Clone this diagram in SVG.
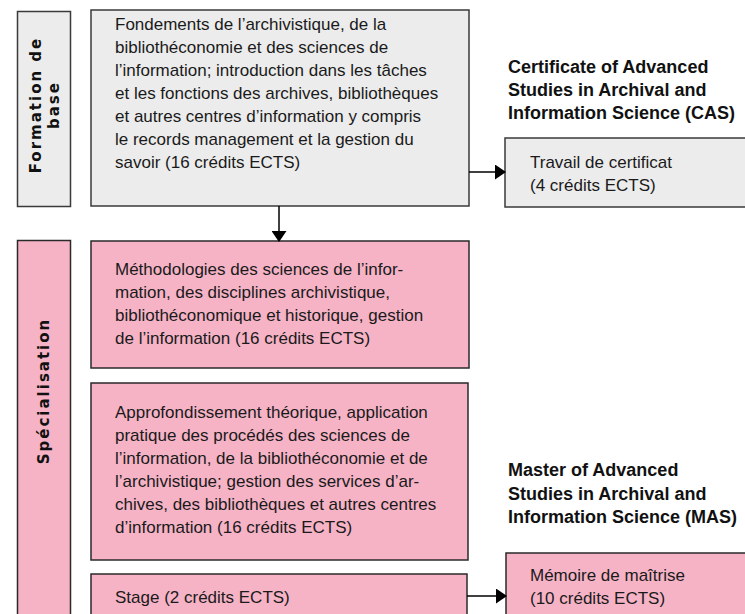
<svg xmlns="http://www.w3.org/2000/svg" width="745" height="614" viewBox="0 0 745 614">
<defs>
<marker id="ah" markerWidth="11" markerHeight="15" refX="10" refY="7.5" orient="auto" markerUnits="userSpaceOnUse">
<path d="M0,0 L11,7.5 L0,15 Z" fill="#000"/>
</marker>
<style>
.gray{fill:#ececec;stroke:#3a3a3a;stroke-width:1.5}
.pink{fill:#f6b3c6;stroke:#2a2a2a;stroke-width:1.5}
.t{font-family:"Liberation Sans",Arial,sans-serif;font-size:17px;fill:#1a1a1a}
.b{font-family:"Liberation Sans",Arial,sans-serif;font-size:18px;font-weight:bold;fill:#111}
.side{font-family:"DejaVu Sans","Liberation Sans",sans-serif;font-size:15px;font-weight:bold;letter-spacing:2px;fill:#111;text-anchor:middle}
.con{stroke:#000;stroke-width:1.5;fill:none}
</style>
</defs>
<rect width="745" height="614" fill="#fff"/>
<g id="side-formation">
<rect class="gray" x="17.5" y="11.5" width="53" height="195"/>
<text class="side" transform="translate(44,105) rotate(-90)"><tspan x="0" y="-3">Formation de</tspan><tspan x="0" y="15">base</tspan></text>
</g>
<g id="node-fondements">
<rect class="gray" x="91" y="10" width="378" height="196"/>
<text class="t"><tspan x="115" y="30">Fondements de l’archivistique, de la</tspan><tspan x="115" y="53">bibliothéconomie et des sciences de</tspan><tspan x="115" y="76">l’information; introduction dans les tâches</tspan><tspan x="115" y="99">et les fonctions des archives, bibliothèques</tspan><tspan x="115" y="122">et autres centres d’information y compris</tspan><tspan x="115" y="145">le records management et la gestion du</tspan><tspan x="115" y="168">savoir (16 crédits ECTS)</tspan></text>
</g>
<g id="title-cas">
<text class="b"><tspan x="508" y="73">Certificate of Advanced</tspan><tspan x="508" y="96">Studies in Archival and</tspan><tspan x="508" y="119">Information Science (CAS)</tspan></text>
</g>
<g id="node-travail">
<rect class="gray" x="505" y="138" width="245" height="69"/>
<text class="t"><tspan x="530" y="168">Travail de certificat</tspan><tspan x="530" y="191">(4 crédits ECTS)</tspan></text>
</g>
<g id="side-specialisation">
<rect class="pink" x="17.5" y="240.5" width="53" height="380"/>
<text class="side" transform="translate(49,391) rotate(-90)"><tspan x="0" y="0">Spécialisation</tspan></text>
</g>
<g id="node-methodologies">
<rect class="pink" x="91" y="241" width="378" height="127"/>
<text class="t"><tspan x="115" y="275">Méthodologies des sciences de l’infor-</tspan><tspan x="115" y="298">mation, des disciplines archivistique,</tspan><tspan x="115" y="321">bibliothéconomique et historique, gestion</tspan><tspan x="115" y="344">de l’information (16 crédits ECTS)</tspan></text>
</g>
<g id="node-approfondissement">
<rect class="pink" x="91" y="383" width="377" height="177"/>
<text class="t"><tspan x="115" y="418">Approfondissement théorique, application</tspan><tspan x="115" y="441">pratique des procédés des sciences de</tspan><tspan x="115" y="464">l’information, de la bibliothéconomie et de</tspan><tspan x="115" y="487">l’archivistique; gestion des services d’ar-</tspan><tspan x="115" y="510">chives, des bibliothèques et autres centres</tspan><tspan x="115" y="533">d’information (16 crédits ECTS)</tspan></text>
</g>
<g id="node-stage">
<rect class="pink" x="91" y="574" width="376" height="50"/>
<text class="t"><tspan x="115" y="603">Stage (2 crédits ECTS)</tspan></text>
</g>
<g id="title-mas">
<text class="b"><tspan x="508" y="476">Master of Advanced</tspan><tspan x="508" y="500">Studies in Archival and</tspan><tspan x="508" y="523">Information Science (MAS)</tspan></text>
</g>
<g id="node-memoire">
<rect class="pink" x="506" y="553" width="245" height="70"/>
<text class="t"><tspan x="530" y="581">Mémoire de maîtrise</tspan><tspan x="530" y="604">(10 crédits ECTS)</tspan></text>
</g>
<g id="connectors">
<line class="con" x1="469" y1="172" x2="505" y2="172" marker-end="url(#ah)"/>
<line class="con" x1="279" y1="206" x2="279" y2="241" marker-end="url(#ah)"/>
<line class="con" x1="467" y1="596" x2="506" y2="596" marker-end="url(#ah)"/>
</g>
</svg>
